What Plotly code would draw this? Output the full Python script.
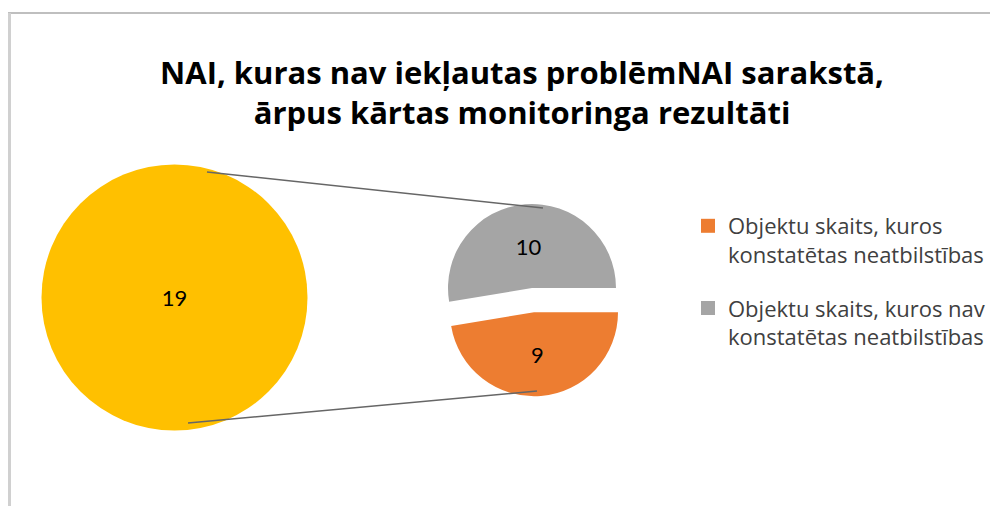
import plotly.graph_objects as go

# ---- data ----
legend_labels = [
    "Objektu skaits, kuros<br>konstatētas neatbilstības",
    "Objektu skaits, kuros nav<br>konstatētas neatbilstības",
]
detail_values = [9, 10]          # orange, gray (secondary pie)
main_label = ["NAI ārpus kārtas monitorings"]
main_values = [sum(detail_values)]  # 19 (primary pie)
title_lines = ["NAI, kuras nav iekļautas problēmNAI sarakstā,", "ārpus kārtas monitoringa rezultāti"]

colors_detail = ["#ED7D31", "#A5A5A5"]
color_main = "#FFC000"

W, H = 990, 506

def px_x(x):
    return x / W

def px_y(y):
    return 1 - y / H

# geometry (pixels)
big_cx, big_cy, big_r = 174.5, 297.5, 133
sm_cx, sm_cy, sm_r = 532, 288, 84
pull = 0.29
sm_half = sm_r * (1 + pull)

fig = go.Figure()

fig.add_trace(go.Pie(
    labels=main_label, values=main_values, sort=False,
    marker=dict(colors=[color_main], line=dict(width=0)),
    textinfo="value", textposition="inside",
    textfont=dict(family="Lato", size=22, color="#000000"),
    insidetextorientation="horizontal",
    domain=dict(x=[px_x(big_cx - big_r), px_x(big_cx + big_r)],
                y=[px_y(big_cy + big_r), px_y(big_cy - big_r)]),
    showlegend=False, hoverinfo="label+value",
))

fig.add_trace(go.Pie(
    labels=legend_labels, values=detail_values, sort=False,
    direction="counterclockwise", rotation=90,
    pull=[pull, 0],
    marker=dict(colors=colors_detail, line=dict(width=0)),
    textinfo="value", textposition="inside",
    textfont=dict(family="Lato", size=22, color="#000000"),
    insidetextorientation="horizontal",
    domain=dict(x=[px_x(sm_cx - sm_half), px_x(sm_cx + sm_half)],
                y=[px_y(sm_cy + sm_half), px_y(sm_cy - sm_half)]),
    showlegend=False, hoverinfo="label+value",
))

# legend entries (one group per category so the gap between entries can be set)
for lab, col in zip(legend_labels, colors_detail):
    fig.add_trace(go.Scatter(
        x=[None], y=[None], mode="markers", name=lab, legendgroup=lab,
        marker=dict(symbol="square", size=14, color=col),
        hoverinfo="skip",
    ))

shapes = [
    # chart frame
    dict(type="line", xref="paper", yref="paper", x0=px_x(8), x1=px_x(990), y0=px_y(13), y1=px_y(13),
         line=dict(color="#BFBFBF", width=2)),
    dict(type="line", xref="paper", yref="paper", x0=px_x(9.5), x1=px_x(9.5), y0=px_y(13), y1=px_y(506),
         line=dict(color="#D0D0D0", width=3)),
    # connector lines
    dict(type="line", xref="paper", yref="paper", x0=px_x(207), y0=px_y(172), x1=px_x(543), y1=px_y(208),
         line=dict(color="#666666", width=1.5)),
    dict(type="line", xref="paper", yref="paper", x0=px_x(188), y0=px_y(423), x1=px_x(537), y1=px_y(391),
         line=dict(color="#666666", width=1.5)),
]

fig.update_layout(
    width=W, height=H,
    margin=dict(l=0, r=0, t=0, b=0, autoexpand=False),
    paper_bgcolor="white", plot_bgcolor="white",
    xaxis=dict(visible=False), yaxis=dict(visible=False),
    title=dict(text="<br>".join(title_lines), x=px_x(522), xanchor="center",
               y=px_y(84), yanchor="top",
               font=dict(family="Open Sans", size=31, color="#000000", weight="bold")),
    legend=dict(x=px_x(688), y=px_y(205), xanchor="left", yanchor="top",
                valign="top", traceorder="grouped", tracegroupgap=22,
                font=dict(family="Open Sans", size=22, color="#404040"),
                bgcolor="rgba(0,0,0,0)"),
    shapes=shapes,
)

fig.write_html("out.html", config={"displayModeBar": False},
               post_script="document.body.style.margin='0';")
